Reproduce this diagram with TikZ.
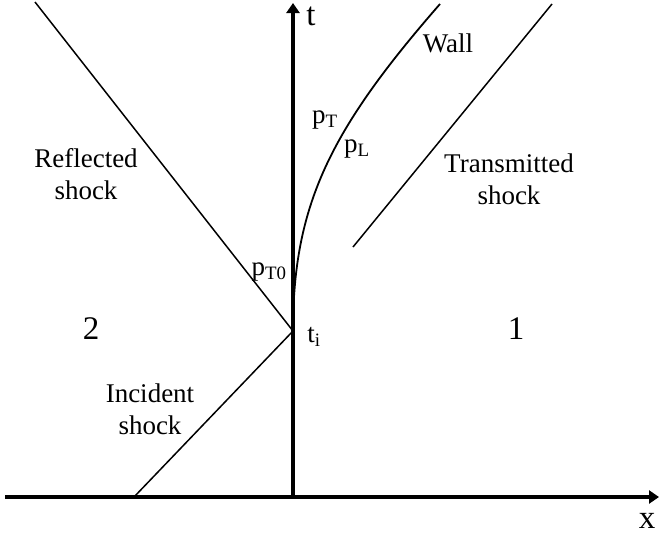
\documentclass[tikz,border=0pt]{standalone}
\usepackage{fontspec}
\setmainfont{Liberation Serif}
\usetikzlibrary{arrows.meta}
\tikzset{
  axis/.style={line width=3.6pt,-{Triangle[length=10pt,width=13pt]}},
  shockline/.style={line width=1.5pt},
  wallline/.style={line width=1.8pt},
  lbl/.style={inner sep=0pt,align=center,font=\fontsize{27}{32}\selectfont},
  biglbl/.style={inner sep=0pt,font=\fontsize{33}{36}\selectfont},
  plbl/.style={inner sep=0pt,font=\fontsize{27}{30}\selectfont}
}
\begin{document}
\begin{tikzpicture}[x=1pt,y=-1pt]
\useasboundingbox (0,0) rectangle (659,536);
% key points
\coordinate (xs) at (5,497);
\coordinate (xe) at (659,497);
\coordinate (ts) at (293,497);
\coordinate (te) at (293,3);
\coordinate (ti) at (293,331);
\coordinate (rtop) at (35,2);
\coordinate (ibot) at (134,497);
\coordinate (wtop) at (440,4);
\coordinate (trb) at (353,247);
\coordinate (trt) at (552,4);
% shocks
\draw[shockline] (ti) -- (rtop);
\draw[shockline] (ibot) -- (ti);
\draw[shockline] (trb) -- (trt);
\draw[wallline] (ti) .. controls (293,205) and (330,130) .. (wtop);
% axes
\draw[axis] (xs) -- (xe);
\draw[axis] (ts) -- (te);
% labels
\node[biglbl] (tl) at (311,16) {t};
\node[biglbl] (xl) at (647,521) {x};
\node[biglbl] (r2) at (91,329) {2};
\node[biglbl] (r1) at (516,329) {1};
\node[lbl] (refl) at (86,174) {Reflected\\shock};
\node[lbl] (inc) at (150,409) {Incident\\shock};
\node[lbl] (trans) at (509,179) {Transmitted\\shock};
\node[lbl] (wall) at (448,43) {Wall};
\node[plbl] (pT) at (325,120) {p\textsubscript{T}};
\node[plbl] (pL) at (357,149) {p\textsubscript{L}};
\node[plbl] (pT0) at (269,272) {p\textsubscript{T0}};
\node[plbl] (tiL) at (314,337) {t\textsubscript{i}};
\end{tikzpicture}
\end{document}
